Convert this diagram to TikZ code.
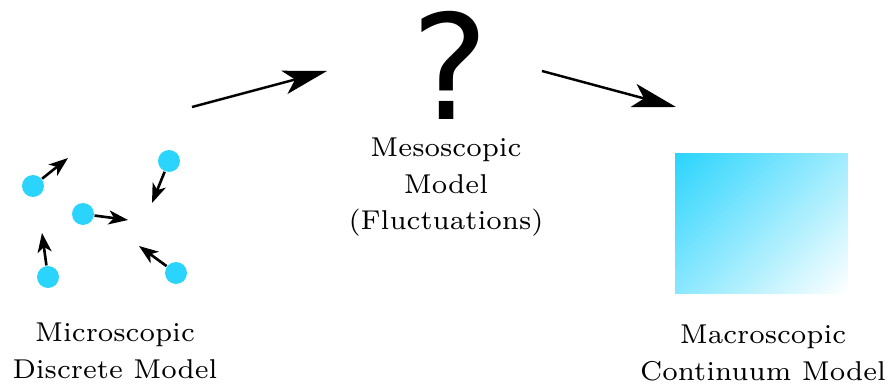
\documentclass[tikz,border=0pt]{standalone}
\usepackage{fontspec}
\newfontfamily\qfont{DejaVu Sans}
\newfontfamily\lblfont{lmroman7-regular}[Extension=.otf]
\usetikzlibrary{arrows.meta}
\definecolor{partcyan}{RGB}{42,212,253}
\pgfdeclarehorizontalshading{msdiag}{100bp}{color(0bp)=(partcyan); color(14.6bp)=(partcyan);
  color(85.4bp)=(white); color(100bp)=(white)}
\tikzset{every picture/.style={line width=0.75pt}}
\tikzset{
  mspart/.style ={circle, fill=partcyan, draw=none, minimum size=0.44cm, inner sep=0pt},
  msvel/.style  ={-{Stealth[length=11pt, width=8pt, inset=3pt]}, line width=1.5pt},
  msflow/.style ={-{Stealth[length=25pt, width=13.6pt, inset=6.2pt]}, line width=1.4pt},
  mslabel/.style={align=center, inner sep=0pt, font=\lblfont\fontsize{15.5}{21}\selectfont},
  msbox/.style  ={rectangle, draw=none, minimum width=3.46cm, minimum height=2.8cm,
                  shading=msdiag, shading angle=-45},
}

\begin{document}
\begin{tikzpicture}[x=0.02cm, y=-0.02cm]
        \useasboundingbox (0,0) rectangle (888,384);
        % particelle
        \node[mspart] (p1) at (33,186) {};
        \node[mspart] (p2) at (169,161) {};
        \node[mspart] (p3) at (83,214) {};
        \node[mspart] (p4) at (48,277) {};
        \node[mspart] (p5) at (176,273) {};
        \coordinate (v1) at (68,158);
        \coordinate (v2) at (152,203);
        \coordinate (v3) at (128,220);
        \coordinate (v4) at (42,233);
        \coordinate (v5) at (139,246);
        \foreach \i in {1,...,5}
            \draw[msvel] (p\i) -- (v\i);
        \node[mslabel, anchor=base] (micro) at (115,378) {Microscopic\\Discrete Model};
        % livello meso
        \node[font=\fontsize{83}{90}\selectfont\qfont, inner sep=0pt, anchor=base] (qm) at (450,120) {?};
        \node[mslabel, anchor=base] (meso) at (446,230) {Mesoscopic\\Model\\(Fluctuations)};
        % continuo
        \node[msbox] (cont) at (761.5,223.5) {};
        \node[mslabel, anchor=base] (macro) at (763,380) {Macroscopic\\Continuum Model};
        % frecce
        \coordinate (f1a) at (192,107);
        \coordinate (f1b) at (327,71);
        \coordinate (f2a) at (542,71);
        \coordinate (f2b) at (676,107);
        \draw[msflow] (f1a) -- (f1b);
        \draw[msflow] (f2a) -- (f2b);
    \end{tikzpicture}
\end{document}
